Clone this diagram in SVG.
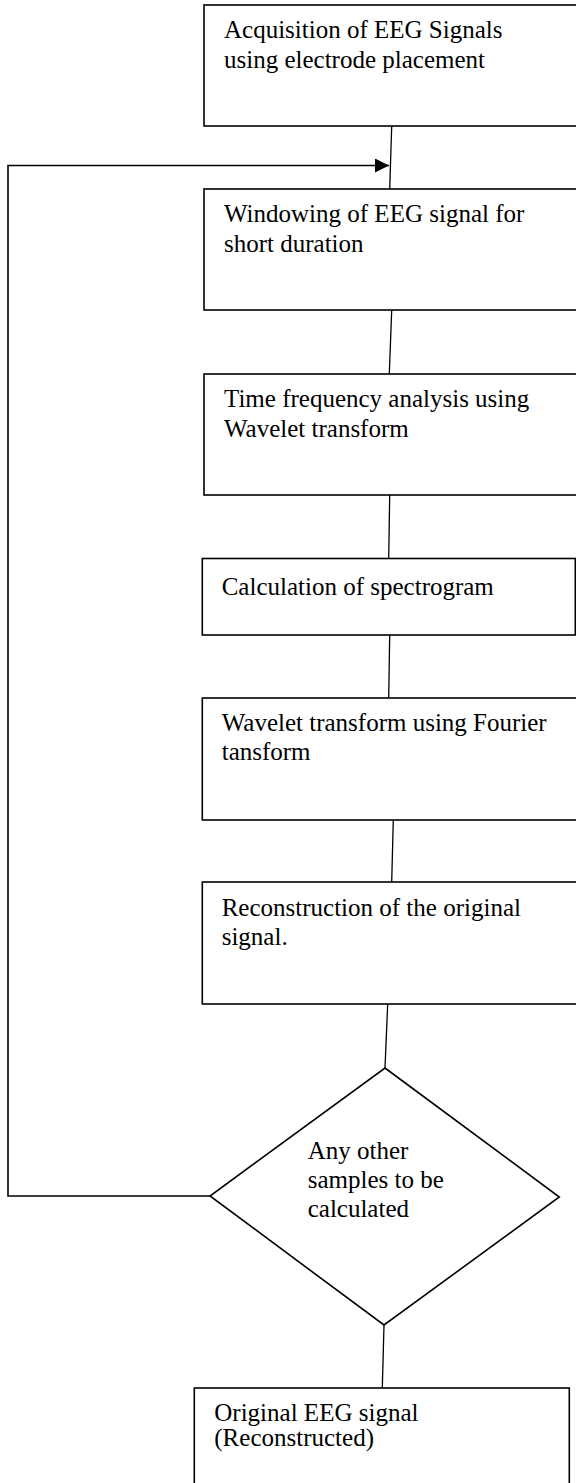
<svg xmlns="http://www.w3.org/2000/svg" width="576" height="1483" viewBox="0 0 576 1483">
<style>
  .box{fill:#fff;stroke:#000;stroke-width:1.6}
  .conn{fill:none;stroke:#000;stroke-width:1.3}
  .loop{fill:none;stroke:#000;stroke-width:1.6}
  text{font-family:"Liberation Serif","Times New Roman",serif;font-size:25px;fill:#000}
</style>
<defs>
  <marker id="arrow" markerUnits="userSpaceOnUse" markerWidth="16" markerHeight="16" refX="14" refY="7" orient="auto">
    <polygon points="0,0 14,7 0,14" fill="#000"/>
  </marker>
</defs>
<rect width="576" height="1483" fill="#fff"/>
<g id="connectors">
  <line class="conn" x1="391.7" y1="126" x2="389.7" y2="189"/>
  <line class="conn" x1="391.7" y1="310" x2="389.3" y2="374"/>
  <line class="conn" x1="389.7" y1="495" x2="388.7" y2="558.5"/>
  <line class="conn" x1="389.7" y1="635" x2="388.7" y2="698"/>
  <line class="conn" x1="393.3" y1="820" x2="391.7" y2="882"/>
  <line class="conn" x1="387.7" y1="1004" x2="385" y2="1068"/>
  <line class="conn" x1="384" y1="1325" x2="382.3" y2="1388"/>
  <polyline class="loop" points="210,1196 8,1196 8,165.5 389,165.5" marker-end="url(#arrow)"/>
</g>
<g id="n1">
  <rect class="box" x="204" y="5" width="380" height="121"/>
  <text x="224" y="37.5">Acquisition of EEG Signals</text>
  <text x="224" y="68">using electrode placement</text>
</g>
<g id="n2">
  <rect class="box" x="204" y="189" width="380" height="121"/>
  <text x="224" y="221.5">Windowing of EEG signal for</text>
  <text x="224" y="251.5">short duration</text>
</g>
<g id="n3">
  <rect class="box" x="204" y="374" width="380" height="121"/>
  <text x="224" y="407">Time frequency analysis using</text>
  <text x="224" y="436.5">Wavelet transform</text>
</g>
<g id="n4">
  <rect class="box" x="202.3" y="558.5" width="373" height="76.5"/>
  <text x="221.7" y="595">Calculation of spectrogram</text>
</g>
<g id="n5">
  <rect class="box" x="202.3" y="698" width="380" height="122"/>
  <text x="221.7" y="730.5">Wavelet transform using Fourier</text>
  <text x="221.7" y="760">tansform</text>
</g>
<g id="n6">
  <rect class="box" x="202.3" y="882" width="380" height="122"/>
  <text x="221.7" y="916">Reconstruction of the original</text>
  <text x="221.7" y="945">signal.</text>
</g>
<g id="n7">
  <polygon class="box" points="385,1068 559.3,1197 384,1325 210,1196"/>
  <text x="307.7" y="1159.3">Any other</text>
  <text x="307.7" y="1188.3">samples to be</text>
  <text x="307.7" y="1217.3">calculated</text>
</g>
<g id="n8">
  <rect class="box" x="194.3" y="1388" width="375" height="110"/>
  <text x="214.3" y="1420.7">Original EEG signal</text>
  <text x="214.3" y="1445.5">(Reconstructed)</text>
</g>
</svg>
